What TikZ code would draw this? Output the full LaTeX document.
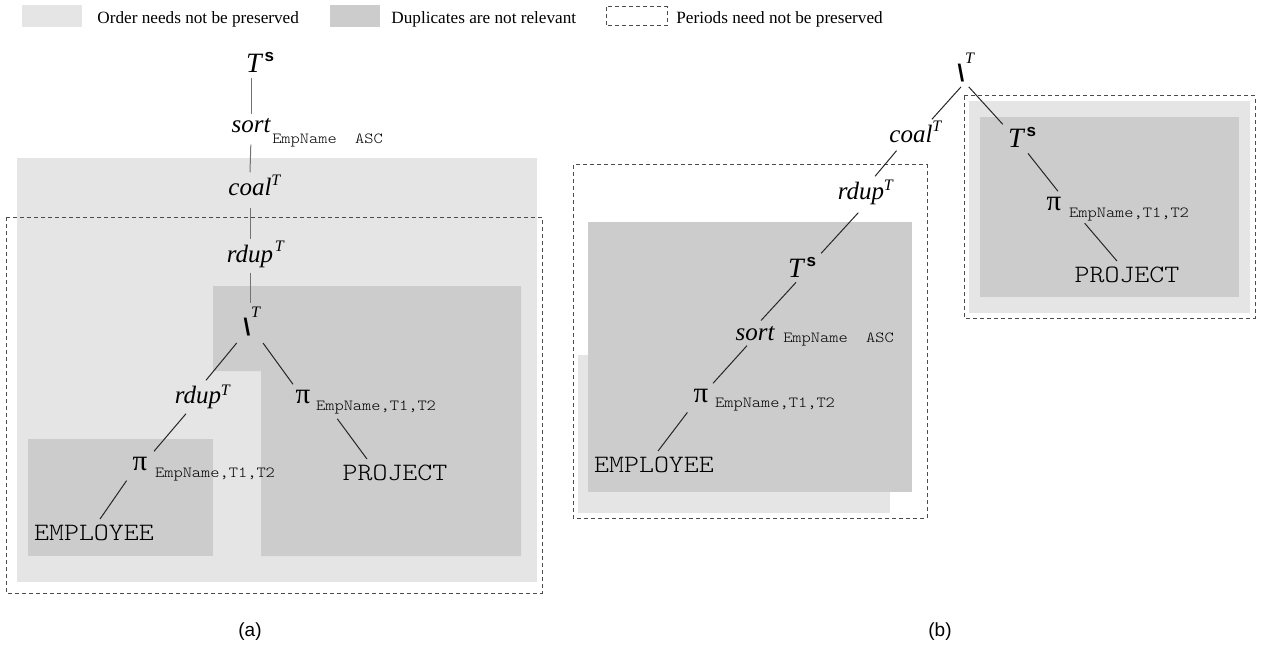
\documentclass[tikz,border=0pt]{standalone}
\usepackage{fontspec}
\setmainfont{Liberation Serif}
\setsansfont{Liberation Sans}
\setmonofont{lmmonolt10-regular.otf}[FakeStretch=1.14]
\usetikzlibrary{positioning}

\tikzset{
  opname/.style={font=\fontsize{12.5}{14}\selectfont\itshape, inner sep=2.5pt, anchor=base},
  tname/.style={font=\fontsize{14}{16}\selectfont\itshape, inner sep=2.5pt, anchor=base},
  projop/.style={font=\fontsize{14.5}{16}\selectfont, inner sep=2.5pt, anchor=base},
  relname/.style={font=\fontsize{12.5}{14}\selectfont\ttfamily, inner sep=2.5pt, anchor=base},
  diffop/.style={font=\fontsize{12}{14}\selectfont\sffamily\bfseries, inner sep=2pt, anchor=base},
  attrs/.style={font=\fontsize{7.7}{9}\selectfont\ttfamily, inner sep=0pt, anchor=base west},
  supT/.style={font=\fontsize{8}{9}\selectfont\itshape, inner sep=0pt, anchor=base west},
  supS/.style={font=\fontsize{8.5}{9}\selectfont\sffamily\bfseries, inner sep=0pt, anchor=base west},
  legtext/.style={font=\fontsize{8.6}{10}\selectfont, inner sep=0pt, anchor=base west},
  caption/.style={font=\fontsize{9.5}{11}\selectfont\sffamily},
  stem/.style={draw=black!55, line width=0.5pt},
  edge/.style={draw=black!85, line width=0.5pt},
  periods/.style={draw=black!70, line width=0.5pt, dash pattern=on 2pt off 1.5pt},
  orderfill/.style={fill=black!10},
  dupfill/.style={fill=black!20}
}

\begin{document}
\begin{tikzpicture}[x=0.5pt, y=-0.5pt]
\useasboundingbox (0,0) rectangle (1269,647);

% legend
\fill[orderfill] (22,5) rectangle (82,27);
\node[legtext] (legorder) at (97,24) {Order needs not be preserved};
\fill[dupfill] (330,5) rectangle (380,27);
\node[legtext] (legdup) at (391,24) {Duplicates are not relevant};
\draw[periods] (606,7) rectangle (667,26);
\node[legtext] (legper) at (676,24) {Periods need not be preserved};

% (a) regions
\fill[orderfill] (17,158) rectangle (537,582);
\fill[dupfill] (213,286) -- (521,286) -- (521,556) -- (261,556) -- (261,371) -- (213,371) -- cycle;
\fill[dupfill] (28,439) rectangle (213,556);
\draw[periods] (6,217) rectangle (542,593);

% (a) operators
\node[tname] (tsa) at (254,73) {T};
\node[supS] (tsas) at ([xshift=-1.5pt,yshift=5.5pt]tsa.base east) {s};
\node[opname] (sorta) at (251,133) {sort};
\node[attrs] (sortaattr) at ([xshift=-2pt,yshift=-5pt]sorta.base east) {EmpName\ \ ASC};
\node[opname] (coala) at (250,195) {coal};
\node[supT] (coalaT) at ([xshift=-3pt,yshift=5pt]coala.base east) {T};
\node[opname] (rdupa) at (250,262) {rdup};
\node[supT] (rdupaT) at ([xshift=-2pt,yshift=5.5pt]rdupa.base east) {T};
\node[diffop] (minusa) at (247,335) {\textbackslash};
\node[supT] (minusaT) at ([xshift=-2pt,yshift=9pt]minusa.base east) {T};
\node[opname] (rdupb) at (198,403) {rdup};
\node[supT] (rdupbT) at ([xshift=-3pt,yshift=4pt]rdupb.base east) {T};
\node[projop] (pia) at (140,470) {π};
\node[attrs] (piaattr) at ([xshift=1pt,yshift=-3.5pt]pia.base east) {EmpName,T1,T2};
\node[projop] (pib) at (303,403) {π};
\node[attrs] (pibattr) at ([xshift=0pt,yshift=-3.5pt]pib.base east) {EmpName,T1,T2};
\node[relname] (empa) at (94,540) {EMPLOYEE};
\node[relname] (proja) at (395,480) {PROJECT};

\draw[stem] (tsa.south -| sorta) -- (sorta.north);
\draw[stem, shorten <=3pt] (sorta.south) -- (coala.north);
\draw[stem, shorten <=3.5pt] (coala.south) -- (rdupa.north);
\draw[stem, shorten >=5pt] (rdupa.south) -- (rdupa.south |- minusa.north);
\draw[edge, shorten <=2pt] (minusa.south west) -- ([xshift=4pt]rdupb.north);
\draw[edge, shorten <=2pt] ([xshift=3pt]minusa.south east) -- ([xshift=-5pt]pib.north);
\draw[edge] ([xshift=-6pt]rdupb.south) -- ([xshift=7pt]pia.north);
\draw[edge, shorten <=3pt] ([xshift=-5pt]pia.south) -- ([xshift=3pt]empa.north);
\draw[edge, shorten <=3pt] ([xshift=9pt]pibattr.south west) -- ([xshift=-14pt]proja.north);

% (b) regions
\fill[orderfill] (578,355) rectangle (890,513);
\fill[dupfill] (588,222) rectangle (912,492);
\draw[periods] (573,165) rectangle (927,518);
\fill[orderfill] (969,101) rectangle (1250,313);
\fill[dupfill] (980,117) rectangle (1239,297);
\draw[periods] (964,96) rectangle (1255,318);

% (b) operators
\node[diffop] (minusb) at (961,82) {\textbackslash};
\node[supT] (minusbT) at ([xshift=-2pt,yshift=9pt]minusb.base east) {T};
\node[opname] (coalb) at (911,142) {coal};
\node[supT] (coalbT) at ([xshift=-3pt,yshift=5pt]coalb.base east) {T};
\node[opname] (rdupc) at (861,199) {rdup};
\node[supT] (rdupcT) at ([xshift=-3pt,yshift=4pt]rdupc.base east) {T};
\node[tname] (tsb) at (796,277) {T};
\node[supS] (tsbs) at ([xshift=-1.5pt,yshift=5.5pt]tsb.base east) {s};
\node[opname] (sortb) at (755,340) {sort};
\node[attrs] (sortbattr) at ([xshift=1.5pt,yshift=-1pt]sortb.base east) {EmpName\ \ ASC};
\node[projop] (pic) at (701,402) {π};
\node[attrs] (picattr) at ([xshift=0.5pt,yshift=-2.5pt]pic.base east) {EmpName,T1,T2};
\node[relname] (empb) at (654,472) {EMPLOYEE};
\node[tname] (tsc) at (1016,148) {T};
\node[supS] (tscs) at ([xshift=-1.5pt,yshift=5.5pt]tsc.base east) {s};
\node[projop] (pid) at (1054,210) {π};
\node[attrs] (pidattr) at ([xshift=1pt,yshift=-3.5pt]pid.base east) {EmpName,T1,T2};
\node[relname] (projb) at (1127,282) {PROJECT};

\draw[edge] (minusb.south) -- ([xshift=-3pt]coalb.north east);
\draw[edge] (minusb.south east) -- (tsc);
\draw[edge, shorten <=2pt] (coalb) -- (rdupc);
\draw[edge, shorten <=2pt] (rdupc.south) -- ([xshift=6pt]tsb.north east);
\draw[edge] (tsb.south) -- ([xshift=3pt]sortb.north);
\draw[edge] ([xshift=-4pt]sortb.south) -- ([xshift=6pt]pic.north);
\draw[edge, shorten <=3pt] ([xshift=-5pt]pic.south) -- ([xshift=2pt]empb.north);
\draw[edge] ([xshift=6pt]tsc.south) -- ([xshift=2pt]pid.north);
\draw[edge, shorten <=1.5pt] ([xshift=7pt]pidattr.south west) -- ([xshift=-5pt]projb.north);

% captions
\node[caption] (capa) at (250,632) {(a)};
\node[caption] (capb) at (940,632) {(b)};
\end{tikzpicture}
\end{document}
